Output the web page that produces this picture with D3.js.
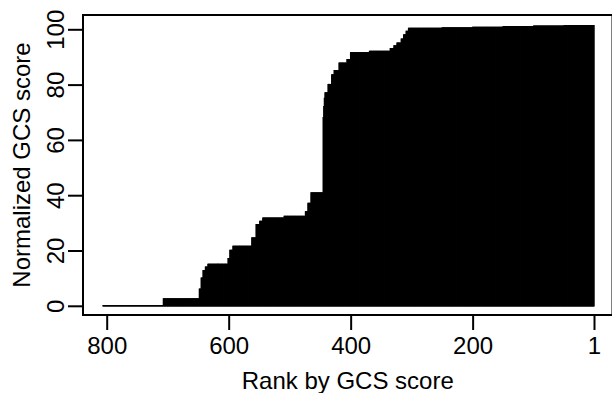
<!DOCTYPE html>
<html>
<head>
  <meta charset="utf-8">
  <script src="https://d3js.org/d3.v7.min.js"></script>
  <style>
    body {
      margin: 0;
      background: #ffffff;
    }

    svg {
      display: block;
      font-family: "Liberation Sans", Arial, sans-serif;
    }

    .tick text, .axis_title {
      font-size: 24px;
      fill: #000000;
    }

    .tick line {
      stroke: #000000;
      stroke-width: 2;
    }
  </style>
  <title>Normalized GCS score by rank</title>
</head>

<body>
  <svg></svg>

  <script type="text/javascript">
    // step runs: ranks rankFrom..rankTo share one score
    const rankFrom = [806, 707, 648, 645, 642, 638, 634, 601, 598, 593, 562, 555, 549, 544, 509, 474, 470, 465,
                      445, 444, 443, 442, 437, 431, 427, 419, 406, 400, 369, 335, 329, 324, 317, 313, 309,
                      305, 250, 200, 150, 100, 50]
    const rankTo   = [708, 649, 646, 643, 639, 635, 602, 599, 594, 563, 556, 550, 545, 510, 475, 471, 466, 446,
                      445, 444, 443, 438, 432, 428, 420, 407, 401, 370, 336, 330, 325, 318, 314, 310, 306,
                      251, 201, 151, 101, 51, 1]
    const score    = [0, 2.5, 6, 10, 12.7, 14, 15, 17, 20, 21.5, 24.5, 29.3, 30.5, 31.7, 32.3, 34, 37, 40.8,
                      68, 72, 75, 77, 80, 83.5, 85, 87.7, 89, 91.5, 92, 93, 94, 95, 96.4, 98, 99.2,
                      100.3, 100.5, 100.7, 100.9, 101.1, 101.3]

    const xTicks = [800, 600, 400, 200, 1]
    const yTicks = [0, 20, 40, 60, 80, 100]

    const width = 612
    const height = 393

    // plot frame (R style box, right edge just past the crop)
    const box = {left: 83, top: 15, bottom: 315, right: 612.5}

    const svg = d3.select("svg")
      .attr("width", width)
      .attr("height", height)

    const xScale = d3.scaleLinear()
                     .domain([800, 1])
                     .range([106.7, 594])

    const yScale = d3.scaleLinear()
                     .domain([0, 100])
                     .range([305.8, 29.3])

    // one bar per rank
    let bars = []
    rankFrom.forEach((from, i) => {
      for (let r = from; r >= rankTo[i]; r--) {
        bars.push({rank: r, score: score[i]})
      }
    })

    svg.append("g")
      .selectAll("line")
      .data(bars)
      .enter()
      .append("line")
      .attr("x1", d => xScale(d.rank))
      .attr("x2", d => xScale(d.rank))
      .attr("y1", yScale(0))
      .attr("y2", d => yScale(d.score))
      .attr("stroke", "#000000")
      .attr("stroke-width", 1.4)
      .attr("stroke-linecap", "square")

    svg.append("rect")
      .attr("x", box.left)
      .attr("y", box.top)
      .attr("width", box.right - box.left)
      .attr("height", box.bottom - box.top)
      .attr("fill", "none")
      .attr("stroke", "#000000")
      .attr("stroke-width", 2)

    const xAxis = svg.append("g")
      .attr("transform", `translate(0, ${box.bottom})`)
      .call(d3.axisBottom(xScale).tickValues(xTicks).tickSize(15).tickSizeOuter(0).tickFormat(d3.format("d")))

    xAxis.select(".domain").remove()
    xAxis.selectAll(".tick text")
      .attr("y", 22)
      .attr("dy", "0.71em")

    const yAxis = svg.append("g")
      .attr("transform", `translate(${box.left}, 0)`)
      .call(d3.axisLeft(yScale).tickValues(yTicks).tickSize(15).tickSizeOuter(0))

    yAxis.select(".domain").remove()
    yAxis.selectAll(".tick text")
      .attr("x", null)
      .attr("dy", null)
      .attr("text-anchor", "middle")
      .attr("transform", "translate(-19, 0) rotate(-90)")

    svg.append("text")
      .attr("class", "axis_title")
      .attr("x", (box.left + box.right) / 2)
      .attr("y", 389)
      .attr("text-anchor", "middle")
      .text("Rank by GCS score")

    svg.append("text")
      .attr("class", "axis_title")
      .attr("transform", `translate(30, ${(box.top + box.bottom) / 2}) rotate(-90)`)
      .attr("text-anchor", "middle")
      .text("Normalized GCS score")
  </script>
</body>
</html>
